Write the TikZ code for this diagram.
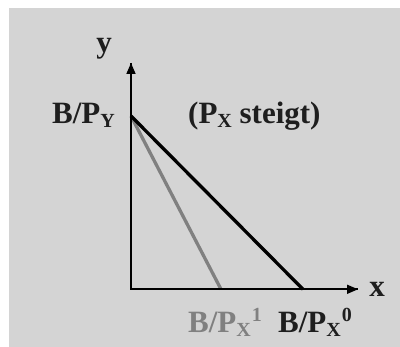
\documentclass[tikz,border=0pt]{standalone}
\usepackage{fontspec}
\setmainfont{Liberation Serif}
\usetikzlibrary{arrows.meta}
\definecolor{bggray}{HTML}{D4D4D4}
\definecolor{linegray}{HTML}{808080}
\definecolor{txt}{HTML}{1E1E1E}
\newcommand{\mysub}[1]{\raisebox{-4pt}{\fontsize{20}{20}\selectfont #1}}
\newcommand{\mysup}[1]{\kern1pt\raisebox{11pt}{\fontsize{20}{20}\selectfont #1}}
\begin{document}
\begin{tikzpicture}[x=1pt,y=1pt,
  lbl/.style={inner sep=0pt,font=\fontsize{31}{31}\selectfont\bfseries,text=txt},
  axis/.style={line width=1.6pt,-{Triangle[length=11pt,width=9pt]}},
  budget/.style={line width=3.3pt}]
\useasboundingbox (0,0) rectangle (400,347);
\fill[white] (0,0) rectangle (400,347);
\fill[bggray] (9,0) rectangle (400,339);
\coordinate (O) at (131,57.7);
\coordinate (ytip) at (131,284);
\coordinate (xtip) at (358,57.7);
\coordinate (A) at (131,231);
\coordinate (B0) at (303,57.7);
\coordinate (B1) at (221,57.7);
\draw[budget,linegray] (A) -- (B1);
\draw[budget,black] (A) -- (B0);
\draw[line width=1.6pt] (ytip) -- (O) -- (xtip);
\draw[axis] (O) -- (ytip);
\draw[axis] (O) -- (xtip);
\node[lbl,anchor=base] (ylab) at (104,294) {y};
\node[lbl,anchor=base] (xlab) at (377,50) {x};
\node[lbl,anchor=base east] (bpy) at (115,223) {B/P\mysub{Y}};
\node[lbl,anchor=base west] (steigt) at (188,223) {(P\mysub{X} steigt)};
\node[lbl,anchor=base west,text=linegray] (bpx1) at (188,14) {B/P\mysub{X}\mysup{1}};
\node[lbl,anchor=base west] (bpx0) at (278,14) {B/P\mysub{X}\mysup{0}};
\end{tikzpicture}
\end{document}
